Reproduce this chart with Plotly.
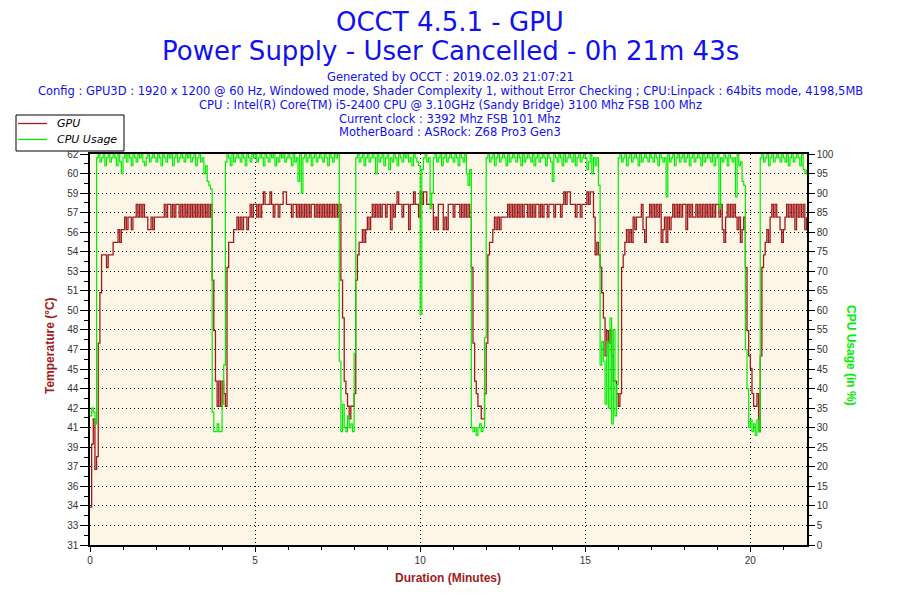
import numpy as np
import plotly.graph_objects as go

# one reading every 3 seconds, run length 0h 21m 43s
SAMPLE_MIN = 0.05
DURATION_MIN = 21 + 43 / 60

# GPU temperature (°C), one row per minute
gpu_temp = [
    34, 39, 41, 37, 38, 47, 51, 54, 54, 54, 53, 54, 54, 54, 55, 55, 55, 56, 55, 56,
    56, 57, 56, 57, 57, 56, 57, 57, 58, 57, 58, 57, 58, 57, 57, 56, 56, 57, 56, 57,
    57, 57, 57, 57, 57, 58, 57, 58, 58, 57, 58, 57, 58, 58, 57, 58, 57, 58, 57, 58,
    57, 58, 57, 58, 57, 58, 57, 58, 57, 58, 57, 58, 57, 58, 52, 48, 44, 42, 44, 42,
    44, 43, 42, 53, 55, 55, 55, 56, 56, 57, 56, 57, 56, 57, 57, 56, 57, 58, 57, 58,
    58, 57, 58, 57, 58, 59, 58, 58, 58, 59, 58, 57, 58, 58, 57, 58, 58, 59, 59, 58,
    58, 58, 57, 58, 58, 57, 58, 57, 58, 57, 58, 57, 58, 57, 58, 58, 57, 58, 57, 58,
    57, 58, 57, 58, 57, 58, 57, 58, 57, 58, 57, 58, 52, 49, 44, 43, 42, 41, 42, 42,
    43, 52, 54, 55, 55, 56, 55, 56, 57, 56, 57, 58, 57, 58, 57, 58, 57, 58, 58, 57,
    58, 58, 56, 58, 57, 58, 59, 58, 58, 57, 58, 58, 58, 56, 58, 58, 59, 58, 58, 57,
    59, 58, 59, 59, 58, 58, 58, 58, 56, 57, 56, 58, 58, 58, 56, 57, 56, 58, 58, 58,
    57, 58, 58, 58, 57, 58, 57, 58, 57, 58, 57, 53, 47, 44, 43, 42, 42, 41, 41, 43,
    47, 54, 55, 55, 56, 57, 56, 57, 56, 57, 57, 57, 57, 58, 57, 58, 57, 58, 57, 58,
    57, 58, 57, 58, 58, 57, 58, 57, 58, 57, 58, 58, 57, 58, 57, 58, 58, 57, 58, 58,
    58, 57, 58, 58, 58, 57, 58, 59, 58, 59, 59, 58, 58, 58, 57, 58, 58, 57, 58, 58,
    58, 59, 58, 59, 59, 57, 54, 55, 54, 53, 51, 49, 46, 48, 47, 48, 46, 44, 44, 43,
    42, 43, 53, 54, 55, 56, 55, 56, 55, 57, 56, 57, 57, 57, 58, 56, 55, 57, 57, 58,
    57, 58, 57, 58, 57, 58, 55, 56, 57, 55, 57, 56, 57, 58, 57, 58, 57, 58, 57, 58,
    58, 56, 58, 57, 58, 57, 57, 58, 57, 58, 57, 58, 57, 58, 57, 58, 57, 58, 57, 58,
    58, 57, 58, 56, 55, 57, 58, 57, 58, 57, 58, 57, 56, 57, 55, 56, 57, 53, 48, 46,
    45, 43, 42, 42, 43, 40, 46, 53, 54, 55, 56, 55, 57, 58, 57, 58, 57, 57, 56, 55,
    56, 57, 58, 57, 58, 57, 58, 56, 58, 57, 58, 57, 58, 56, 57,
]

# CPU usage (%), same sampling
cpu_usage = [
    33, 35, 34, 31, 99, 100, 98, 99, 100, 97, 99, 100, 98, 99, 100, 99, 97, 100, 98, 95,
    99, 100, 98, 100, 99, 97, 100, 99, 98, 100, 99, 100, 98, 97, 99, 100, 98, 99, 100, 99,
    98, 100, 99, 97, 100, 99, 98, 100, 99, 100, 97, 99, 100, 98, 99, 100, 99, 98, 100, 99,
    100, 98, 99, 100, 97, 99, 100, 98, 99, 95, 97, 93, 92, 91, 34, 29, 29, 31, 29, 29,
    36, 46, 98, 100, 99, 97, 100, 98, 99, 100, 99, 98, 100, 99, 97, 100, 99, 98, 100, 99,
    100, 98, 99, 100, 99, 97, 100, 99, 98, 100, 99, 100, 97, 99, 98, 100, 99, 100, 98, 99,
    100, 99, 97, 100, 98, 99, 93, 100, 90, 99, 100, 98, 99, 100, 97, 99, 100, 98, 99, 100,
    99, 98, 100, 99, 97, 100, 99, 98, 100, 99, 100, 47, 29, 36, 30, 29, 33, 30, 31, 29,
    49, 99, 100, 98, 99, 100, 97, 99, 100, 98, 99, 100, 99, 95, 100, 98, 99, 100, 97, 99,
    100, 96, 99, 98, 100, 99, 97, 100, 99, 98, 100, 99, 100, 98, 99, 97, 100, 99, 98, 97,
    59, 96, 99, 100, 98, 99, 86, 90, 99, 100, 98, 99, 100, 97, 99, 100, 98, 99, 100, 99,
    98, 100, 99, 97, 100, 99, 98, 100, 95, 92, 96, 30, 29, 30, 28, 30, 31, 29, 30, 53,
    99, 100, 98, 99, 100, 97, 99, 100, 98, 99, 100, 99, 97, 100, 98, 99, 100, 99, 98, 100,
    99, 97, 100, 98, 99, 100, 99, 98, 100, 97, 99, 100, 98, 99, 100, 99, 97, 100, 99, 98,
    93, 100, 99, 98, 100, 99, 97, 100, 98, 99, 100, 99, 98, 100, 97, 99, 100, 98, 99, 100,
    99, 96, 98, 100, 95, 99, 97, 99, 92, 46, 52, 47, 36, 52, 35, 58, 31, 55, 33, 41,
    99, 100, 98, 99, 100, 97, 99, 100, 98, 99, 100, 99, 97, 100, 98, 99, 100, 99, 98, 100,
    99, 98, 100, 99, 97, 100, 99, 98, 99, 89, 100, 98, 99, 100, 97, 99, 100, 98, 99, 100,
    98, 99, 100, 97, 99, 100, 98, 99, 100, 99, 97, 100, 98, 99, 100, 99, 98, 100, 97, 99,
    100, 86, 99, 98, 100, 99, 97, 100, 99, 98, 99, 89, 100, 97, 98, 93, 92, 50, 40, 30,
    32, 29, 31, 28, 32, 29, 99, 100, 98, 99, 100, 97, 99, 100, 98, 99, 100, 99, 98, 100,
    99, 98, 100, 97, 99, 100, 98, 99, 100, 99, 97, 100, 96, 95, 96,
]

minutes = [i * SAMPLE_MIN for i in range(len(gpu_temp))]

temp_tick_labels = ["31", "33", "34", "36", "37", "39", "41", "42", "44", "45", "47",
                    "48", "50", "51", "53", "54", "56", "57", "59", "60", "62"]
cpu_ticks = [0, 5, 10, 15, 20, 25, 30, 35, 40, 45, 50, 55, 60, 65, 70, 75, 80, 85, 90, 95, 100]
duration_ticks = [0, 5, 10, 15, 20]

series_names = ["GPU", "CPU Usage"]
title_lines = ["OCCT 4.5.1 - GPU", "Power Supply - User Cancelled - 0h 21m 43s"]
info_lines = [
    "Generated by OCCT : 2019.02.03 21:07:21",
    "Config : GPU3D : 1920 x 1200 @ 60 Hz, Windowed mode, Shader Complexity 1, without Error Checking ; CPU:Linpack : 64bits mode, 4198,5MB",
    "CPU : Intel(R) Core(TM) i5-2400 CPU @ 3.10GHz (Sandy Bridge) 3100 Mhz FSB 100 Mhz",
    "Current clock : 3392 Mhz FSB 101 Mhz",
    "MotherBoard : ASRock: Z68 Pro3 Gen3",
]

RED = "#A01C1C"
GREEN = "#00EE00"
BLUE = "#1010F0"
TICKFONT = dict(family="Liberation Sans", size=10, color="#333333")

# the page body adds an 8px margin, so the figure is drawn 8px smaller
PAGE = 8
W, H = 900 - PAGE, 600 - PAGE
# plot area in screen pixels
L, R, T, B = 90, 807, 154, 545


def px(xp, yp):
    return (xp - L) / (R - L), (B - yp) / (B - T)


fig = go.Figure()
fig.add_trace(go.Scatter(x=minutes, y=gpu_temp, name=series_names[0], mode="lines",
                         line=dict(color=RED, width=1.3, shape="hv")))
fig.add_trace(go.Scatter(x=minutes, y=cpu_usage, name=series_names[1], mode="lines", yaxis="y2",
                         line=dict(color=GREEN, width=1.2, shape="hv")))

temp_ticks = np.linspace(31, 62, len(temp_tick_labels))


def tick_axis(rng, vals, major_len, minor_len, minor_step, minor_start, where, **kw):
    axis = dict(range=rng, tickmode="array", tickvals=vals, ticks=where, ticklen=major_len,
                tickcolor="black", tickwidth=1, zeroline=False, **kw)
    if minor_len:
        axis["minor"] = dict(tickmode="linear", tick0=minor_start, dtick=minor_step, ticks=where,
                             ticklen=minor_len, tickcolor="black", showgrid=False)
    return axis


grid = dict(showgrid=True, gridcolor="black", griddash="1px,3px", gridwidth=1)
inner = dict(showticklabels=False, showgrid=False, showline=False)

fig.update_layout(
    width=W, height=H,
    margin=dict(l=L - PAGE, r=W - (R - PAGE), t=T - PAGE, b=H - (B - PAGE), pad=0),
    paper_bgcolor="white", plot_bgcolor="#FDF6E7",
    font=dict(family="DejaVu Sans", color=BLUE),
    showlegend=False,
    xaxis=tick_axis([0, DURATION_MIN], duration_ticks, 5, 3, 1, 0, "outside",
                    showline=True, linecolor="black", linewidth=1.5, mirror=True,
                    tickfont=TICKFONT, **grid),
    yaxis=tick_axis([31, 62], temp_ticks, 8, 4, 31 / 40, 31, "outside", ticktext=temp_tick_labels,
                    showline=True, linecolor="black", linewidth=1.5,
                    tickfont=TICKFONT, **grid),
    yaxis2=tick_axis([0, 100], cpu_ticks, 6, 3, 2.5, 0, "outside", overlaying="y", side="right",
                     showline=True, linecolor="black", linewidth=1.5, showgrid=False,
                     tickfont=TICKFONT),
    # inner halves of the crossing tick marks
    xaxis2=tick_axis([0, DURATION_MIN], duration_ticks, 5, 3, 1, 0, "inside",
                     overlaying="x", anchor="y", side="bottom", **inner),
    yaxis3=tick_axis([31, 62], temp_ticks, 5, 0, 1, 31, "inside",
                     overlaying="y", anchor="x", side="left", **inner),
    yaxis4=tick_axis([0, 100], cpu_ticks, 6, 3, 2.5, 0, "inside",
                     overlaying="y", anchor="x", side="right", **inner),
)

ann = []
for text, yp in zip(title_lines, [22, 51]):
    x, y = px(450, yp)
    ann.append(dict(text=text, x=x, y=y, font=dict(size=26, color=BLUE)))
for text, yp in zip(info_lines, [77, 91, 105, 119, 132]):
    x, y = px(450, yp)
    ann.append(dict(text=text, x=x, y=y, font=dict(size=11.5, color=BLUE)))

x, y = px(50, 346)
ann.append(dict(text="<b>Temperature (°C)</b>", x=x, y=y, textangle=-90,
                font=dict(family="Liberation Sans", size=12, color=RED)))
x, y = px(851, 355)
ann.append(dict(text="<b>CPU Usage (in %)</b>", x=x, y=y, textangle=90,
                font=dict(family="Liberation Sans", size=12, color=GREEN)))
x, y = px(448, 578)
ann.append(dict(text="<b>Duration (Minutes)</b>", x=x, y=y,
                font=dict(family="Liberation Sans", size=12, color=RED)))

# legend box drawn by hand to match the compact original
shapes = []
x0, y0 = px(16, 115)
x1, y1 = px(124, 151)
shapes.append(dict(type="rect", x0=x0, y0=y0, x1=x1, y1=y1, xref="paper", yref="paper",
                   fillcolor="white", line=dict(color="black", width=1), layer="above"))
for name, color, yp in zip(series_names, [RED, GREEN], [123.5, 139.5]):
    xa, ya = px(18, yp)
    xb, _ = px(47, yp)
    shapes.append(dict(type="line", x0=xa, x1=xb, y0=ya, y1=ya, xref="paper", yref="paper",
                       line=dict(color=color, width=1.3), layer="above"))
    xt, yt = px(55, yp)
    ann.append(dict(text=name, x=xt, y=yt, xanchor="left",
                    font=dict(size=11, color="black", style="italic")))

for a in ann:
    a.update(xref="paper", yref="paper", showarrow=False, yanchor="middle")
    a.setdefault("xanchor", "center")
fig.update_layout(annotations=ann, shapes=shapes)

fig.write_html("out.html")
